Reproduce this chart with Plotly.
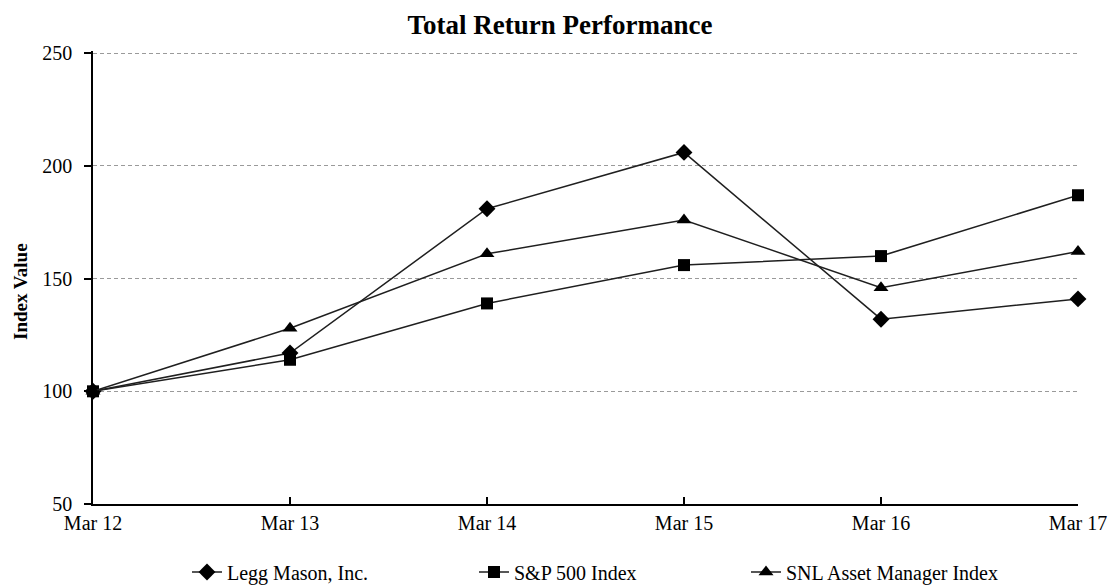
import plotly.graph_objects as go

categories = ["Mar 12", "Mar 13", "Mar 14", "Mar 15", "Mar 16", "Mar 17"]
legg_mason = [100, 117, 181, 206, 132, 141]
sp500 = [100, 114, 139, 156, 160, 187]
snl_asset = [100, 128, 161, 176, 146, 162]
y_ticks = [50, 100, 150, 200, 250]

FONT = "Liberation Serif, Times New Roman, serif"
LINE = "#1f1f1f"

series = [
    ("Legg Mason, Inc.", legg_mason, "diamond", 13, 242),
    ("S&P 500 Index", sp500, "square", 12, 227),
    ("SNL Asset Manager Index", snl_asset, "triangle-up", 13, 230),
]

fig = go.Figure()
x_idx = list(range(len(categories)))
for name, vals, sym, size, lw in series:
    fig.add_trace(go.Scatter(
        x=x_idx, y=vals, name=name, mode="lines+markers",
        line=dict(color=LINE, width=1.5),
        marker=dict(symbol=sym, size=size, color="black"),
        cliponaxis=False, legendwidth=lw,
    ))

fig.update_layout(
    width=1109, height=587,
    margin=dict(l=93, r=31, t=51, b=83),
    paper_bgcolor="white", plot_bgcolor="white",
    font=dict(family=FONT, size=20, color="black"),
    title=dict(text="<b>Total Return Performance</b>", x=560/1109, xref="container",
               xanchor="center", y=1 - 25/587, yanchor="middle", yref="container",
               font=dict(family=FONT, size=27, color="black"), automargin=False),
    showlegend=True,
    legend=dict(orientation="h", x=187/1109, xref="container", xanchor="left",
                y=1 - 572/587, yref="container", yanchor="middle",
                font=dict(family=FONT, size=20, color="black"),
                bgcolor="rgba(0,0,0,0)", itemclick=False),
    xaxis=dict(
        range=[0, len(categories) - 1], tickmode="array", tickvals=x_idx, ticktext=categories,
        showline=True, linecolor="black", linewidth=1.5, ticks="inside", ticklen=7,
        tickcolor="black", tickwidth=1.5, showgrid=False, zeroline=False,
        ticklabelstandoff=0, automargin=False,
    ),
    yaxis=dict(
        range=[50, 251], tickvals=y_ticks, showline=True, linecolor="black", linewidth=1.5,
        ticks="outside", ticklen=7, tickcolor="black", tickwidth=1.5,
        showgrid=True, gridcolor="#9a9a9a", gridwidth=1, griddash="4px,3px",
        zeroline=False, ticklabelstandoff=8, automargin=False,
    ),
    annotations=[dict(
        text="<b>Index Value</b>", textangle=-90, xref="paper", yref="paper",
        x=(20 - 93) / 985, y=(504 - 292) / 453, xanchor="center", yanchor="middle",
        showarrow=False, font=dict(family=FONT, size=19, color="black"),
    )],
)

fig.write_html(
    "out.html",
    config={"displayModeBar": False},
    post_script="document.body.style.margin='0';document.body.style.padding='0';",
)
